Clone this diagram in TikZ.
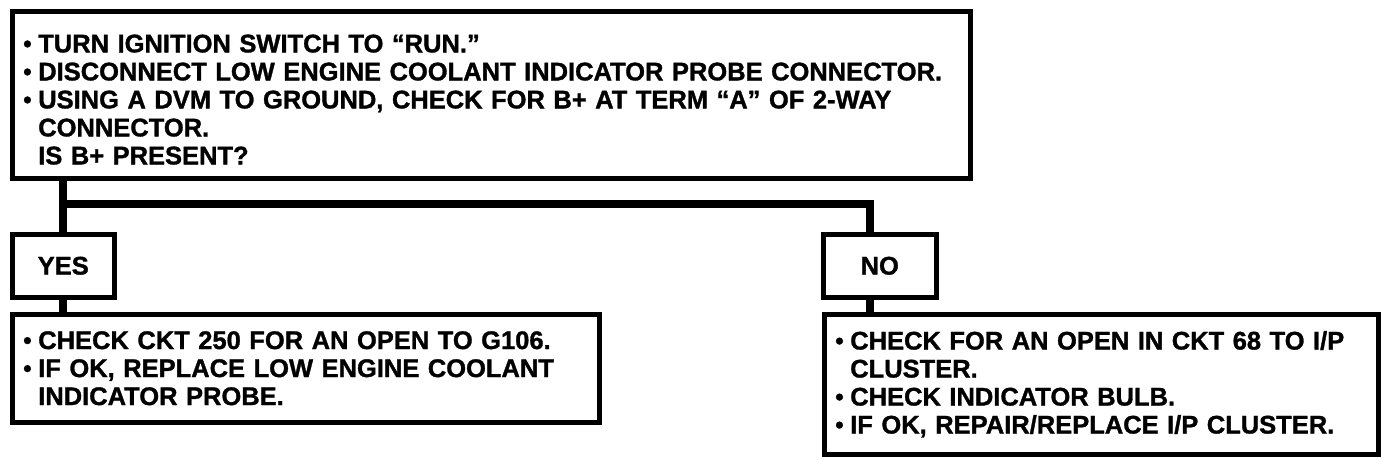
\documentclass[tikz,border=0pt]{standalone}
\usepackage{fontspec}
\newfontfamily\hvb{Liberation Sans Bold}[FakeBold=1.2]
\newcommand\bul{\makebox[15pt][l]{\raisebox{0.5pt}{\fontsize{24}{24}\selectfont\textbullet}}}
\newcommand\ind{\hspace*{15pt}}
\begin{document}
\begin{tikzpicture}[x=1pt,y=-1pt,
  box/.style={draw=black, line width=4.5pt, fill=white, anchor=north west,
    inner xsep=11pt, inner ysep=0pt, align=left,
    font=\hvb\fontsize{25.5}{28}\selectfont},
  ans/.style={draw=black, line width=4.5pt, fill=white, anchor=north west,
    inner sep=0pt, font=\hvb\fontsize{25.5}{28}\selectfont},
  conn/.style={line width=8pt, line join=miter}]
\useasboundingbox[fill=white] (0,0) rectangle (1392,460);

\node[box, text width=936pt, minimum height=166.5pt] (top) at (10,9.5)
 {\rule{0pt}{27pt}\bul TURN IGNITION SWITCH TO “RUN.”\\
  \bul DISCONNECT LOW ENGINE COOLANT INDICATOR PROBE CONNECTOR.\\
  \bul USING A DVM TO GROUND, CHECK FOR B+ AT TERM “A” OF 2-WAY\\
  \ind CONNECTOR.\\
  \ind IS B+ PRESENT?};

\node[ans, minimum width=102pt, minimum height=63pt] (yes) at (10,232) {YES};
\node[ans, minimum width=113pt, minimum height=63pt] (no) at (821,232) {NO};

\node[box, text width=565pt, minimum height=108pt] (yesact) at (10,312)
 {\bul CHECK CKT 250 FOR AN OPEN TO G106.\\
  \bul IF OK, REPLACE LOW ENGINE COOLANT\\
  \ind INDICATOR PROBE.};

\node[box, text width=532pt, minimum height=140pt] (noact) at (822,312)
 {\bul CHECK FOR AN OPEN IN CKT 68 TO I/P\\
  \ind CLUSTER.\\
  \bul CHECK INDICATOR BULB.\\
  \bul IF OK, REPAIR/REPLACE I/P CLUSTER.};

\coordinate (bar) at (0,203.5);
\coordinate (nx) at (870,0);
\draw[conn] (top.south -| yes.north) -- (yes.north);
\draw[conn] (bar -| yes.north) -- (bar -| nx) -- (nx |- no.north);
\draw[conn] (yes.south) -- (yes.south |- yesact.north);
\draw[conn] (nx |- no.south) -- (nx |- noact.north);
\end{tikzpicture}
\end{document}
